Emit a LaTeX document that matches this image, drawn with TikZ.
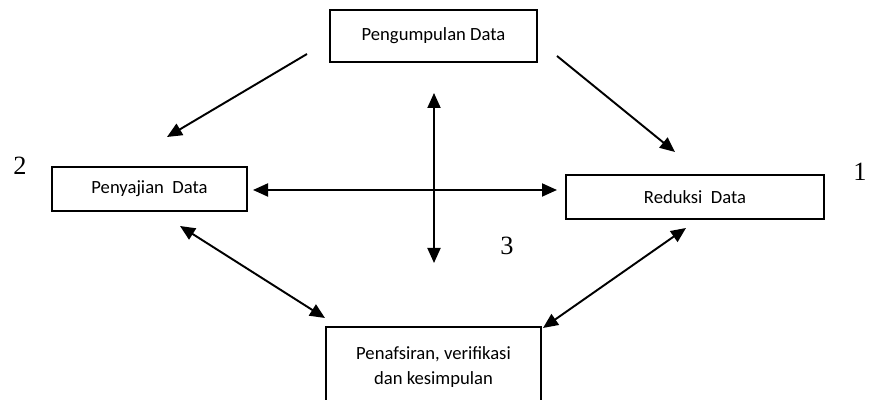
\documentclass[tikz,border=0pt]{standalone}
\usepackage{fontspec}
\setmainfont{Carlito}
\newfontfamily\numfont{Liberation Serif}
\usetikzlibrary{arrows.meta}

\tikzset{
	kotak/.style={draw, line width=0.8pt, inner sep=0pt, font=\fontsize{10.6}{14}\selectfont},
	nomor/.style={font=\numfont\fontsize{15}{15}\selectfont},
	panah/.style={line width=1.1pt, >={Triangle[length=0.3cm, width=0.26cm]}}
}

\begin{document}
\begin{tikzpicture}
	\useasboundingbox (0, 0) rectangle (17.4, 8);
	\clip (0, 0) rectangle (17.4, 8);

	% kotak
	\node[kotak, minimum width=4.14cm, minimum height=1.04cm] (pengumpulan) at (8.67, 7.28) {Pengumpulan Data\hspace{0.4cm}};
	\node[kotak, minimum width=3.9cm, minimum height=0.88cm] (penyajian) at (2.99, 4.22) {Penyajian\ \ Data};
	\node[kotak, minimum width=5.16cm, minimum height=0.88cm] (reduksi) at (13.9, 4.06) {Reduksi\ \ Data};
	\node[kotak, minimum width=4.3cm, minimum height=1.6cm, align=center] (penafsiran) at (8.67, 0.66) {Penafsiran, verifikasi\\dan kesimpulan};

	\node[nomor] (dua) at (0.4, 4.68) {2};
	\node[nomor] (satu) at (17.2, 4.56) {1};
	\node[nomor] (tiga) at (10.14, 3.08) {3};

	% ujung panah
	\coordinate (a1) at (6.14, 6.92);
	\coordinate (b1) at (3.34, 5.26);
	\coordinate (a2) at (11.14, 6.88);
	\coordinate (b2) at (13.5, 4.96);
	\coordinate (atas) at (8.68, 6.14);
	\coordinate (bawah) at (8.68, 2.74);
	\coordinate (kiri) at (5.06, 4.2);
	\coordinate (kanan) at (11.14, 4.2);
	\coordinate (a3) at (3.6, 3.48);
	\coordinate (b3) at (6.5, 1.64);
	\coordinate (a4) at (13.72, 3.44);
	\coordinate (b4) at (10.86, 1.44);

	\draw[panah, ->] (a1) -- (b1);
	\draw[panah, ->] (a2) -- (b2);
	\draw[panah, <->] (atas) -- (bawah);
	\draw[panah, <->] (kiri) -- (kanan);
	\draw[panah, <->] (a3) -- (b3);
	\draw[panah, <->] (a4) -- (b4);
\end{tikzpicture}
\end{document}
